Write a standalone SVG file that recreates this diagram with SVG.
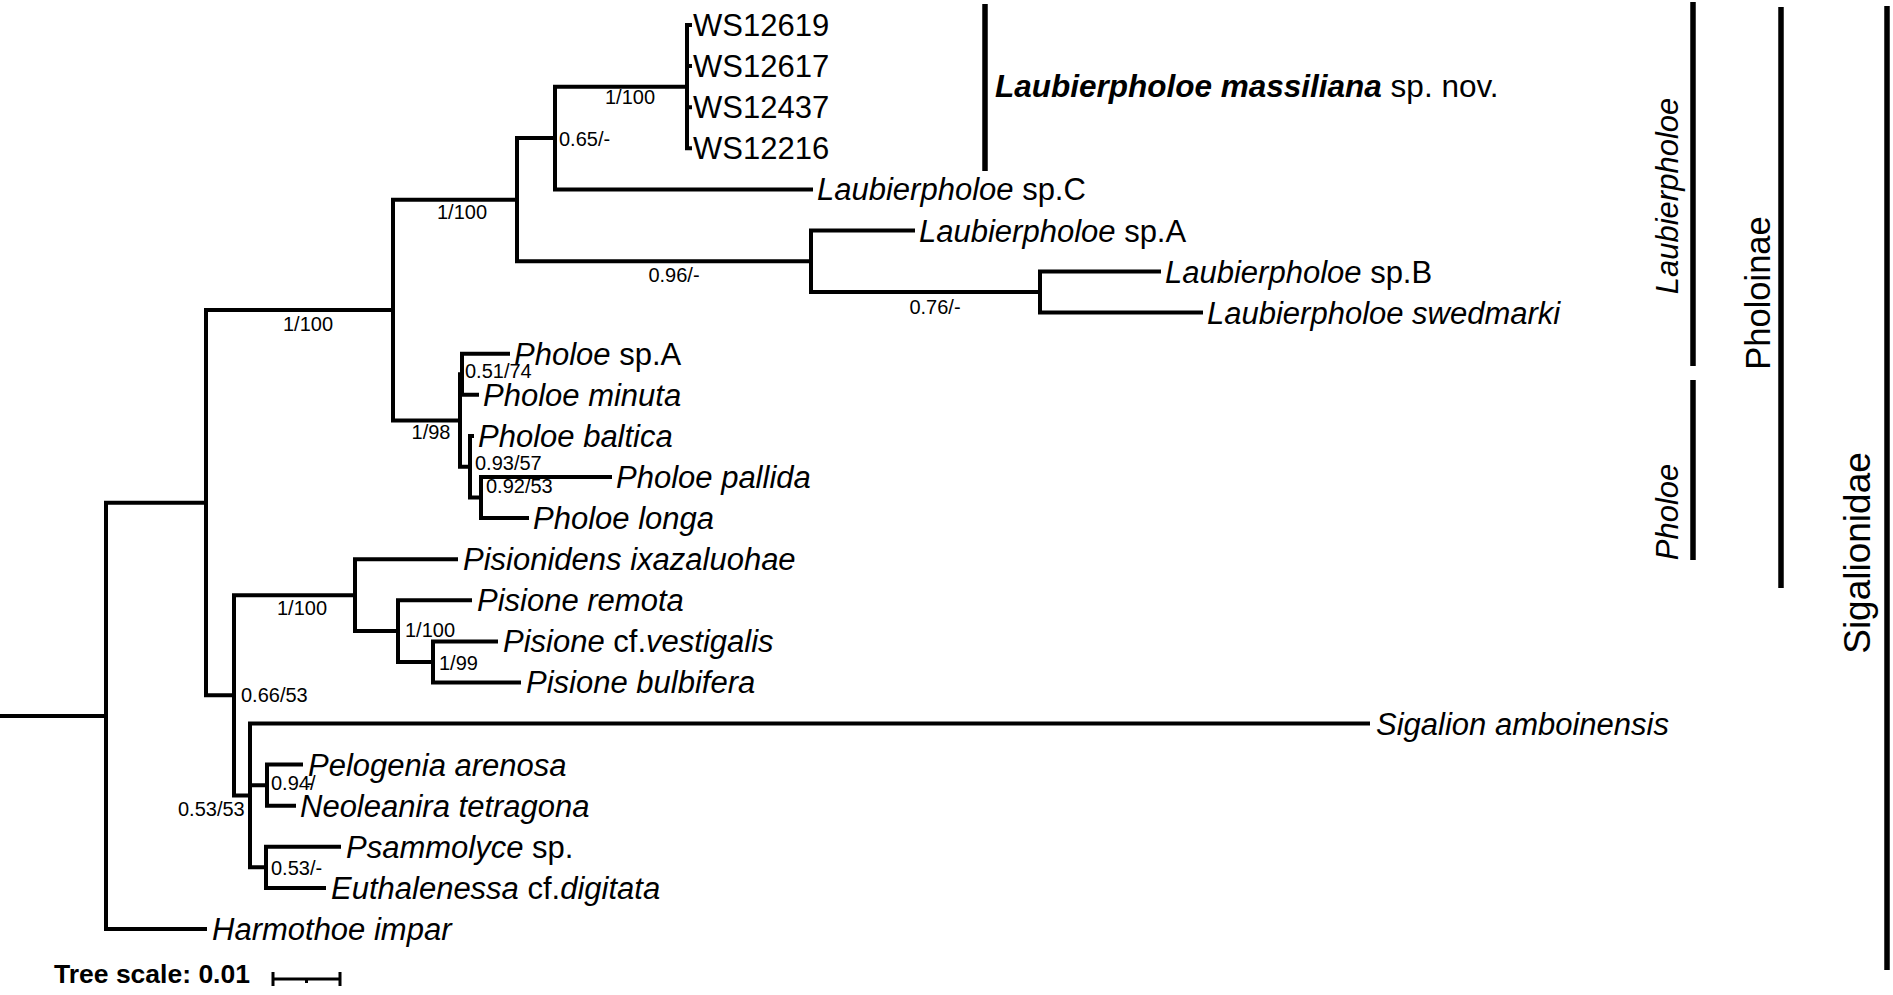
<svg xmlns="http://www.w3.org/2000/svg" width="1893" height="995" viewBox="0 0 1893 995">
<style>
text{font-family:"Liberation Sans",Arial,sans-serif;fill:#000}
.leaf{font-size:31px}
.i{font-style:italic}
.sup{font-size:20px}
.br{fill:none;stroke:#000;stroke-width:4;stroke-linecap:square}
.bar{stroke:#000;stroke-width:5.5}
.sb{fill:none;stroke:#000;stroke-width:3}
</style>
<rect width="1893" height="995" fill="#fff"/>
<g id="connectors" class="br">
<path d="M0,715.9H106M106,502.7V929M106,502.7H206M106,929H205"/>
<path d="M206,310.1V695.3M206,310.1H393M206,695.3H234"/>
<path d="M393,199.7V420.5M393,199.7H517M393,420.5H460"/>
<path d="M517,138V261.3M517,138H555M517,261.3H811"/>
<path d="M555,86.7V189.4M555,86.7H687M555,189.4H811"/>
<path d="M687,25V148.3M687,25H690M687,66.1H690M687,107.2H690M687,148.3H690"/>
<path d="M811,230.5V292M811,230.5H913M811,292H1040"/>
<path d="M1040,271.5V312.6M1040,271.5H1159M1040,312.6H1201"/>
<path d="M460,374.2V466.7M460,374.2H462M460,466.7H470"/>
<path d="M462,353.7V394.8M462,353.7H508M462,394.8H477"/>
<path d="M470,435.9V497.6M470,435.9H472M470,497.6H481"/>
<path d="M481,477V518.1M481,477H610M481,518.1H527"/>
<path d="M234,595.2V795.4M234,595.2H355M234,795.4H250"/>
<path d="M355,559.2V631.1M355,559.2H456M355,631.1H398"/>
<path d="M398,600.3V661.9M398,600.3H470M398,661.9H433"/>
<path d="M433,641.4V682.4M433,641.4H496M433,682.4H519"/>
<path d="M250,723.5V867.35M250,723.5H1368M250,785.15H267M250,867.35H266"/>
<path d="M267,764.6V805.7M267,764.6H301M267,805.7H294"/>
<path d="M266,846.8V887.9M266,846.8H339M266,887.9H324"/>
</g>
<g id="support-values" class="sup">
<text x="630" y="104" text-anchor="middle">1/100</text>
<text x="559" y="146">0.65/-</text>
<text x="308" y="331" text-anchor="middle">1/100</text>
<text x="462" y="219" text-anchor="middle">1/100</text>
<text x="674" y="282" text-anchor="middle">0.96/-</text>
<text x="935" y="314" text-anchor="middle">0.76/-</text>
<text x="465" y="378">0.51/74</text>
<text x="431" y="439" text-anchor="middle">1/98</text>
<text x="475" y="470">0.93/57</text>
<text x="486" y="493">0.92/53</text>
<text x="302" y="615" text-anchor="middle">1/100</text>
<text x="405" y="637">1/100</text>
<text x="439" y="670">1/99</text>
<text x="241" y="702">0.66/53</text>
<text x="271" y="790">0.94/<tspan dx="-9">-</tspan></text>
<text x="178" y="816">0.53/53</text>
<text x="271" y="875">0.53/-</text>
</g>
<g id="leaf-WS12619"><text class="leaf" x="693" y="36">WS12619</text></g>
<g id="leaf-WS12617"><text class="leaf" x="693" y="77.1">WS12617</text></g>
<g id="leaf-WS12437"><text class="leaf" x="693" y="118.2">WS12437</text></g>
<g id="leaf-WS12216"><text class="leaf" x="693" y="159.3">WS12216</text></g>
<g id="leaf-Lsp-C"><text class="leaf" x="817" y="200.4"><tspan class="i">Laubierpholoe</tspan> sp.C</text></g>
<g id="leaf-Lsp-A"><text class="leaf" x="919" y="241.5"><tspan class="i">Laubierpholoe</tspan> sp.A</text></g>
<g id="leaf-Lsp-B"><text class="leaf" x="1165" y="282.5"><tspan class="i">Laubierpholoe</tspan> sp.B</text></g>
<g id="leaf-Lswedmarki"><text class="leaf i" x="1207" y="323.6">Laubierpholoe swedmarki</text></g>
<g id="leaf-Psp-A"><text class="leaf" x="514" y="364.7"><tspan class="i">Pholoe</tspan> sp.A</text></g>
<g id="leaf-Pminuta"><text class="leaf i" x="483" y="405.8">Pholoe minuta</text></g>
<g id="leaf-Pbaltica"><text class="leaf i" x="478" y="446.9">Pholoe baltica</text></g>
<g id="leaf-Ppallida"><text class="leaf i" x="616" y="488">Pholoe pallida</text></g>
<g id="leaf-Plonga"><text class="leaf i" x="533" y="529.1">Pholoe longa</text></g>
<g id="leaf-Pisionidens"><text class="leaf i" x="463" y="570.2">Pisionidens ixazaluohae</text></g>
<g id="leaf-Premota"><text class="leaf i" x="477" y="611.3">Pisione remota</text></g>
<g id="leaf-Pvestigalis"><text class="leaf" x="503" y="652.4"><tspan class="i">Pisione</tspan> cf.<tspan class="i">vestigalis</tspan></text></g>
<g id="leaf-Pbulbifera"><text class="leaf i" x="526" y="693.4">Pisione bulbifera</text></g>
<g id="leaf-Sigalion"><text class="leaf i" x="1376" y="734.5">Sigalion amboinensis</text></g>
<g id="leaf-Pelogenia"><text class="leaf i" x="308" y="775.6">Pelogenia arenosa</text></g>
<g id="leaf-Neoleanira"><text class="leaf i" x="300" y="816.7">Neoleanira tetragona</text></g>
<g id="leaf-Psammolyce"><text class="leaf" x="346" y="857.8"><tspan class="i">Psammolyce</tspan> sp.</text></g>
<g id="leaf-Euthalenessa"><text class="leaf" x="331" y="898.9"><tspan class="i">Euthalenessa</tspan> cf.<tspan class="i">digitata</tspan></text></g>
<g id="leaf-Harmothoe"><text class="leaf i" x="212" y="940">Harmothoe impar</text></g>
<g id="clade-massiliana">
<line class="bar" x1="985" y1="4" x2="985" y2="171"/>
<text x="995" y="97" font-size="31.5"><tspan font-weight="bold" font-style="italic">Laubierpholoe massiliana</tspan> sp. nov.</text>
</g>
<g id="clade-Laubierpholoe">
<line class="bar" x1="1693" y1="2" x2="1693" y2="366"/>
<text class="leaf i" transform="translate(1678,196) rotate(-90)" text-anchor="middle">Laubierpholoe</text>
</g>
<g id="clade-Pholoe">
<line class="bar" x1="1693" y1="380" x2="1693" y2="560"/>
<text class="leaf i" transform="translate(1678,512) rotate(-90)" text-anchor="middle">Pholoe</text>
</g>
<g id="clade-Pholoinae">
<line class="bar" x1="1781" y1="7" x2="1781" y2="588"/>
<text font-size="34.5" transform="translate(1770,293) rotate(-90)" text-anchor="middle">Pholoinae</text>
</g>
<g id="clade-Sigalionidae">
<line class="bar" x1="1887" y1="6" x2="1887" y2="970"/>
<text font-size="37" transform="translate(1870,553) rotate(-90)" text-anchor="middle">Sigalionidae</text>
</g>
<g id="scale">
<text x="54" y="983" font-size="26.5" font-weight="bold">Tree scale: 0.01</text>
<path class="sb" d="M273,979H340M273,972V986M340,972V986M306.5,979V983"/>
</g>
</svg>
